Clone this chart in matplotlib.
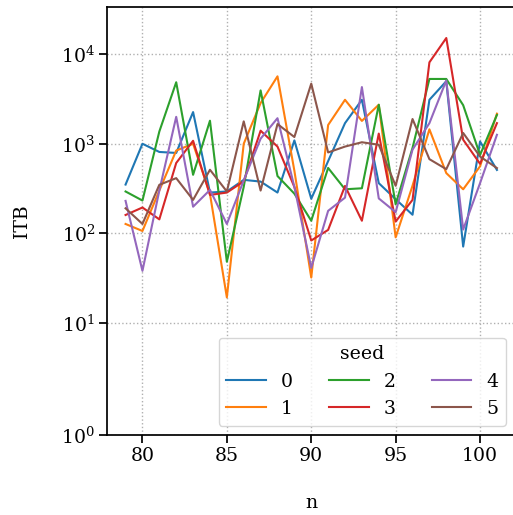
import matplotlib
matplotlib.use("Agg")
import matplotlib.pyplot as plt
from matplotlib.ticker import NullLocator, FixedLocator, LogFormatterSciNotation

plt.rcParams['font.family'] = ['DejaVu Serif']
plt.rcParams['mathtext.fontset'] = 'dejavuserif'

n = list(range(79, 102))
seeds = ["0", "1", "2", "3", "4", "5"]

itb_seed0 = [350, 1000, 810, 790, 2260, 285, 293, 395, 378, 285, 1090, 243, 640, 1700, 3100, 363, 240, 161, 3100, 5000, 71, 1060, 510]
itb_seed1 = [127, 106, 300, 840, 1000, 275, 19.2, 1000, 2850, 5670, 500, 32, 1620, 3100, 1800, 2730, 90, 340, 1450, 470, 310, 560, 2170]
itb_seed2 = [293, 232, 1370, 4870, 450, 1810, 48, 330, 3950, 436, 277, 138, 537, 310, 318, 2730, 210, 900, 5300, 5300, 2700, 750, 2100]
itb_seed3 = [160, 194, 143, 610, 1080, 268, 285, 380, 1400, 930, 329, 83, 109, 338, 138, 1300, 135, 236, 8130, 15200, 1110, 597, 1700]
itb_seed4 = [230, 38, 300, 2000, 198, 305, 127, 390, 1140, 1930, 330, 41, 178, 250, 4300, 245, 172, 860, 1700, 5100, 110, 363, 1260]
itb_seed5 = [190, 127, 348, 413, 236, 512, 293, 1780, 300, 1660, 1190, 4700, 800, 930, 1040, 975, 339, 1890, 673, 520, 1320, 720, 535]

series = [itb_seed0, itb_seed1, itb_seed2, itb_seed3, itb_seed4, itb_seed5]
colors = ['#1f77b4', '#ff7f0e', '#2ca02c', '#d62728', '#9467bd', '#8c564b']

fs = 13.6

fig = plt.figure(figsize=(5.13, 5.15), dpi=100)
ax = fig.add_axes([107/513, 80/515, 408.5/513, 427.7/515])

for s, vals, c in zip(seeds, series, colors):
    ax.plot(n, vals, color=c, lw=1.5, label=s)

ax.set_yscale('symlog', linthresh=2)
ax.set_ylim(1, 33500)
ax.set_xlim(77.9, 102.1)
ax.yaxis.set_major_locator(FixedLocator([1, 10, 100, 1000, 10000]))
ax.yaxis.set_major_formatter(LogFormatterSciNotation())
ax.yaxis.set_minor_locator(NullLocator())
ax.set_xticks([80, 85, 90, 95, 100])

ax.grid(True, linestyle=':', color='#b0b0b0', lw=1.0)
for sp in ax.spines.values():
    sp.set_linewidth(1.25)
ax.tick_params(axis='both', which='major', labelsize=fs, length=5.6, width=1.25, pad=3)

ax.set_xlabel('n', fontsize=fs, labelpad=21)
ax.set_ylabel('ITB', fontsize=fs, labelpad=22)

leg = ax.legend(title='seed', ncol=3, loc='lower right', fontsize=fs,
                title_fontsize=fs, handlelength=2.1, columnspacing=1.9,
                borderaxespad=0.5)
leg.get_frame().set_linewidth(1.0)

fig.savefig('out.png', dpi=100)
